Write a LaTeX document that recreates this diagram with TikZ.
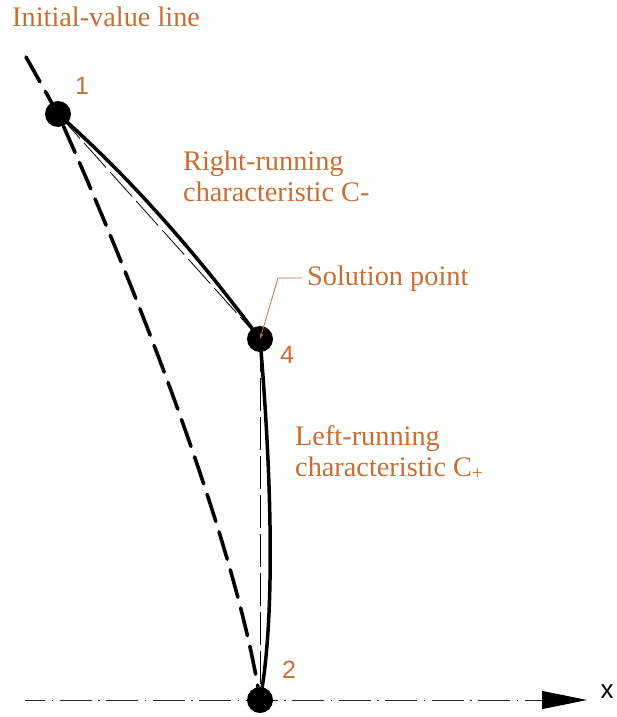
\documentclass[tikz,border=0pt]{standalone}
\usepackage{fontspec}
\setmainfont{Liberation Serif}
\newfontfamily\numfont{Liberation Sans}
\usetikzlibrary{arrows.meta}
\definecolor{lbl}{RGB}{200,110,50}
\tikzset{
  dotnode/.style={circle,fill=black,inner sep=0pt,minimum size=26pt},
  thickline/.style={line width=3.5pt},
  ivline/.style={line width=3.6pt,line cap=round,dash pattern=on 28.5pt off 11pt},
  chord/.style={line width=0.8pt,dash pattern=on 33pt off 6pt},
  axisline/.style={line width=0.9pt,draw=black!85,dash pattern=on 32pt off 6.5pt on 1.5pt off 6.5pt,dash phase=12pt},
  leader/.style={draw=lbl,line width=0.8pt,-{Stealth[length=6pt,width=3.5pt]}},
  lbltext/.style={text=lbl,inner sep=0pt,anchor=base west,font=\fontsize{28.3}{31}\selectfont},
  numtext/.style={text=lbl,inner sep=0pt,font=\numfont\fontsize{25}{25}\selectfont},
}
\begin{document}
\begin{tikzpicture}[x=1pt,y=-1pt]
\useasboundingbox (0,0) rectangle (617,717);
% centres
\coordinate (c1) at (58,114);
\coordinate (c4) at (260,339);
\coordinate (c2) at (260,700);
\coordinate (ivs) at (26,57);
\coordinate (xs) at (25,700);
\coordinate (xe) at (587,700);
% axis
\draw[axisline,-{Triangle[length=45pt,width=18pt,black]}] (xs) -- (xe);
% initial-value line
\draw[ivline] (ivs) -- (c1) .. controls (130,274) and (236,540) .. (c2);
% chords
\draw[chord] (c1) -- (c4);
\draw[chord] (c4) -- (c2);
% characteristics
\draw[thickline] (c1) .. controls (133,180) and (200,258) .. (c4);
\draw[thickline] (c4) .. controls (267,420) and (279,600) .. (c2);
% dots
\node[dotnode] (p1) at (c1) {};
\node[dotnode] (p4) at (c4) {};
\node[dotnode] (p2) at (c2) {};
% labels
\node[lbltext] (ivl) at (12,27) {Initial-value line};
\node[lbltext] (rr1) at (183,170) {Right-running};
\node[lbltext] (rr2) at (183,201) {characteristic C-};
\node[lbltext] (lr1) at (295,445) {Left-running};
\node[lbltext] (lr2) at (295,476) {characteristic C\textsubscript{+}};
\node[lbltext] (sol) at (307,285) {Solution point};
\node[numtext] (n1) at (82,86) {1};
\node[numtext] (n4) at (287,355) {4};
\node[numtext] (n2) at (289,670) {2};
\node[inner sep=0pt,font=\numfont\fontsize{26}{26}\selectfont] (xl) at (607,692) {x};
% leader
\coordinate (lk) at (278,278);
\coordinate (ls) at (302,278);
\draw[leader] (ls) -- (lk) -- (c4);
\end{tikzpicture}
\end{document}
